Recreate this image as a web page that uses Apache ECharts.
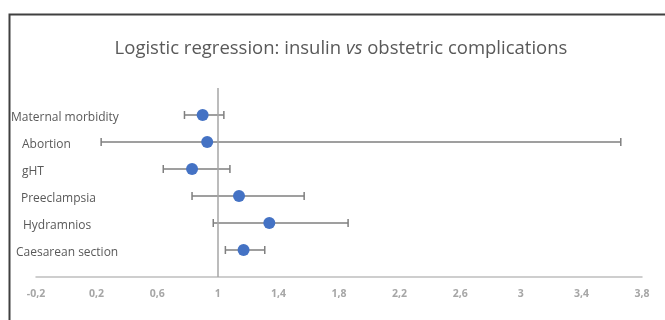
<!DOCTYPE html>
<html>
<head>
<meta charset="utf-8">
<script src="https://cdn.jsdelivr.net/npm/echarts@6/dist/echarts.min.js"></script>
<style>
  html, body { margin: 0; padding: 0; background: #fff; }
  #main { width: 665px; height: 320px; }
</style>
</head>
<body>
<div id="main"></div>
<script>
// outcomes, top to bottom
var categories = ['Maternal morbidity', 'Abortion', 'gHT', 'Preeclampsia', 'Hydramnios', 'Caesarean section'];
var oddsRatio = [0.90, 0.93, 0.83, 1.14, 1.34, 1.17];
var ciLow = [0.78, 0.23, 0.64, 0.83, 0.97, 1.05];
var ciHigh = [1.04, 3.66, 1.08, 1.57, 1.86, 1.31];
var xTicks = [-0.2, 0.2, 0.6, 1, 1.4, 1.8, 2.2, 2.6, 3, 3.4, 3.8];

// small left shift of each label like in the excel sheet
var labelPad = [0, 11, 11, 10, 12, 5];

var n = categories.length;
var rowOf = function (i) { return n - i; };

var pointData = [], barData = [], rich = {};
for (var i = 0; i < n; i++) {
    pointData.push([oddsRatio[i], rowOf(i)]);
    barData.push([ciLow[i], ciHigh[i], rowOf(i)]);
    rich['p' + i] = { padding: [5, 0, 0, labelPad[i]], color: '#595959', fontSize: 12, fontFamily: 'Open Sans' };
}

var chart = echarts.init(document.getElementById('main'));
chart.setOption({
    animation: false,
    title: {
        text: 'Logistic regression: insulin {i|vs} obstetric complications',
        left: 336,
        top: 34,
        textAlign: 'center',
        textStyle: {
            fontFamily: 'Open Sans',
            fontSize: 18.5,
            fontWeight: 'normal',
            color: '#595959',
            rich: {
                i: { fontStyle: 'italic', fontFamily: 'Open Sans', fontSize: 18.5, color: '#595959' }
            }
        }
    },
    graphic: [{
        type: 'rect',
        left: 7, top: 12,
        shape: { width: 700, height: 340 },
        style: { fill: 'none', stroke: '#404040', lineWidth: 2 },
        silent: true
    }],
    grid: { left: 36, right: 23, top: 88, bottom: 43 },
    xAxis: {
        type: 'value',
        min: xTicks[0],
        max: xTicks[xTicks.length - 1],
        interval: 0.4,
        splitLine: { show: false },
        axisTick: { show: false },
        axisLine: { lineStyle: { color: '#bfbfbf', width: 1.5 } },
        axisLabel: {
            margin: 12,
            color: '#a6a6a6',
            fontSize: 10.5,
            fontWeight: 'bold',
            fontFamily: 'Open Sans',
            formatter: function (v) {
                return String(Math.round(v * 10) / 10).replace('.', ',');
            }
        }
    },
    yAxis: {
        type: 'value',
        min: 0,
        max: n + 1,
        interval: 1,
        splitLine: { show: false },
        axisTick: { show: false },
        axisLine: { show: false },
        axisLabel: {
            align: 'left',
            margin: 25,
            formatter: function (v) {
                var i = n - v;
                if (i < 0 || i >= n) return '';
                return '{p' + i + '|' + categories[i] + '}';
            },
            rich: rich
        }
    },
    series: [
        {
            type: 'custom',
            data: barData,
            z: 2,
            renderItem: function (params, api) {
                var a = api.coord([api.value(0), api.value(2)]);
                var b = api.coord([api.value(1), api.value(2)]);
                var h = 4;
                var st = { stroke: '#7f7f7f', lineWidth: 1.5 };
                return {
                    type: 'group',
                    children: [
                        { type: 'line', shape: { x1: a[0], y1: a[1], x2: b[0], y2: b[1] }, style: st },
                        { type: 'line', shape: { x1: a[0], y1: a[1] - h, x2: a[0], y2: a[1] + h }, style: st },
                        { type: 'line', shape: { x1: b[0], y1: b[1] - h, x2: b[0], y2: b[1] + h }, style: st }
                    ]
                };
            }
        },
        {
            type: 'scatter',
            data: pointData,
            z: 3,
            symbolSize: 12,
            itemStyle: { color: '#4472c4', opacity: 1 },
            markLine: {
                silent: true,
                symbol: 'none',
                label: { show: false },
                lineStyle: { color: '#a6a6a6', width: 1.5, type: 'solid' },
                data: [{ xAxis: 1 }]
            }
        }
    ]
});
</script>
</body>
</html>
